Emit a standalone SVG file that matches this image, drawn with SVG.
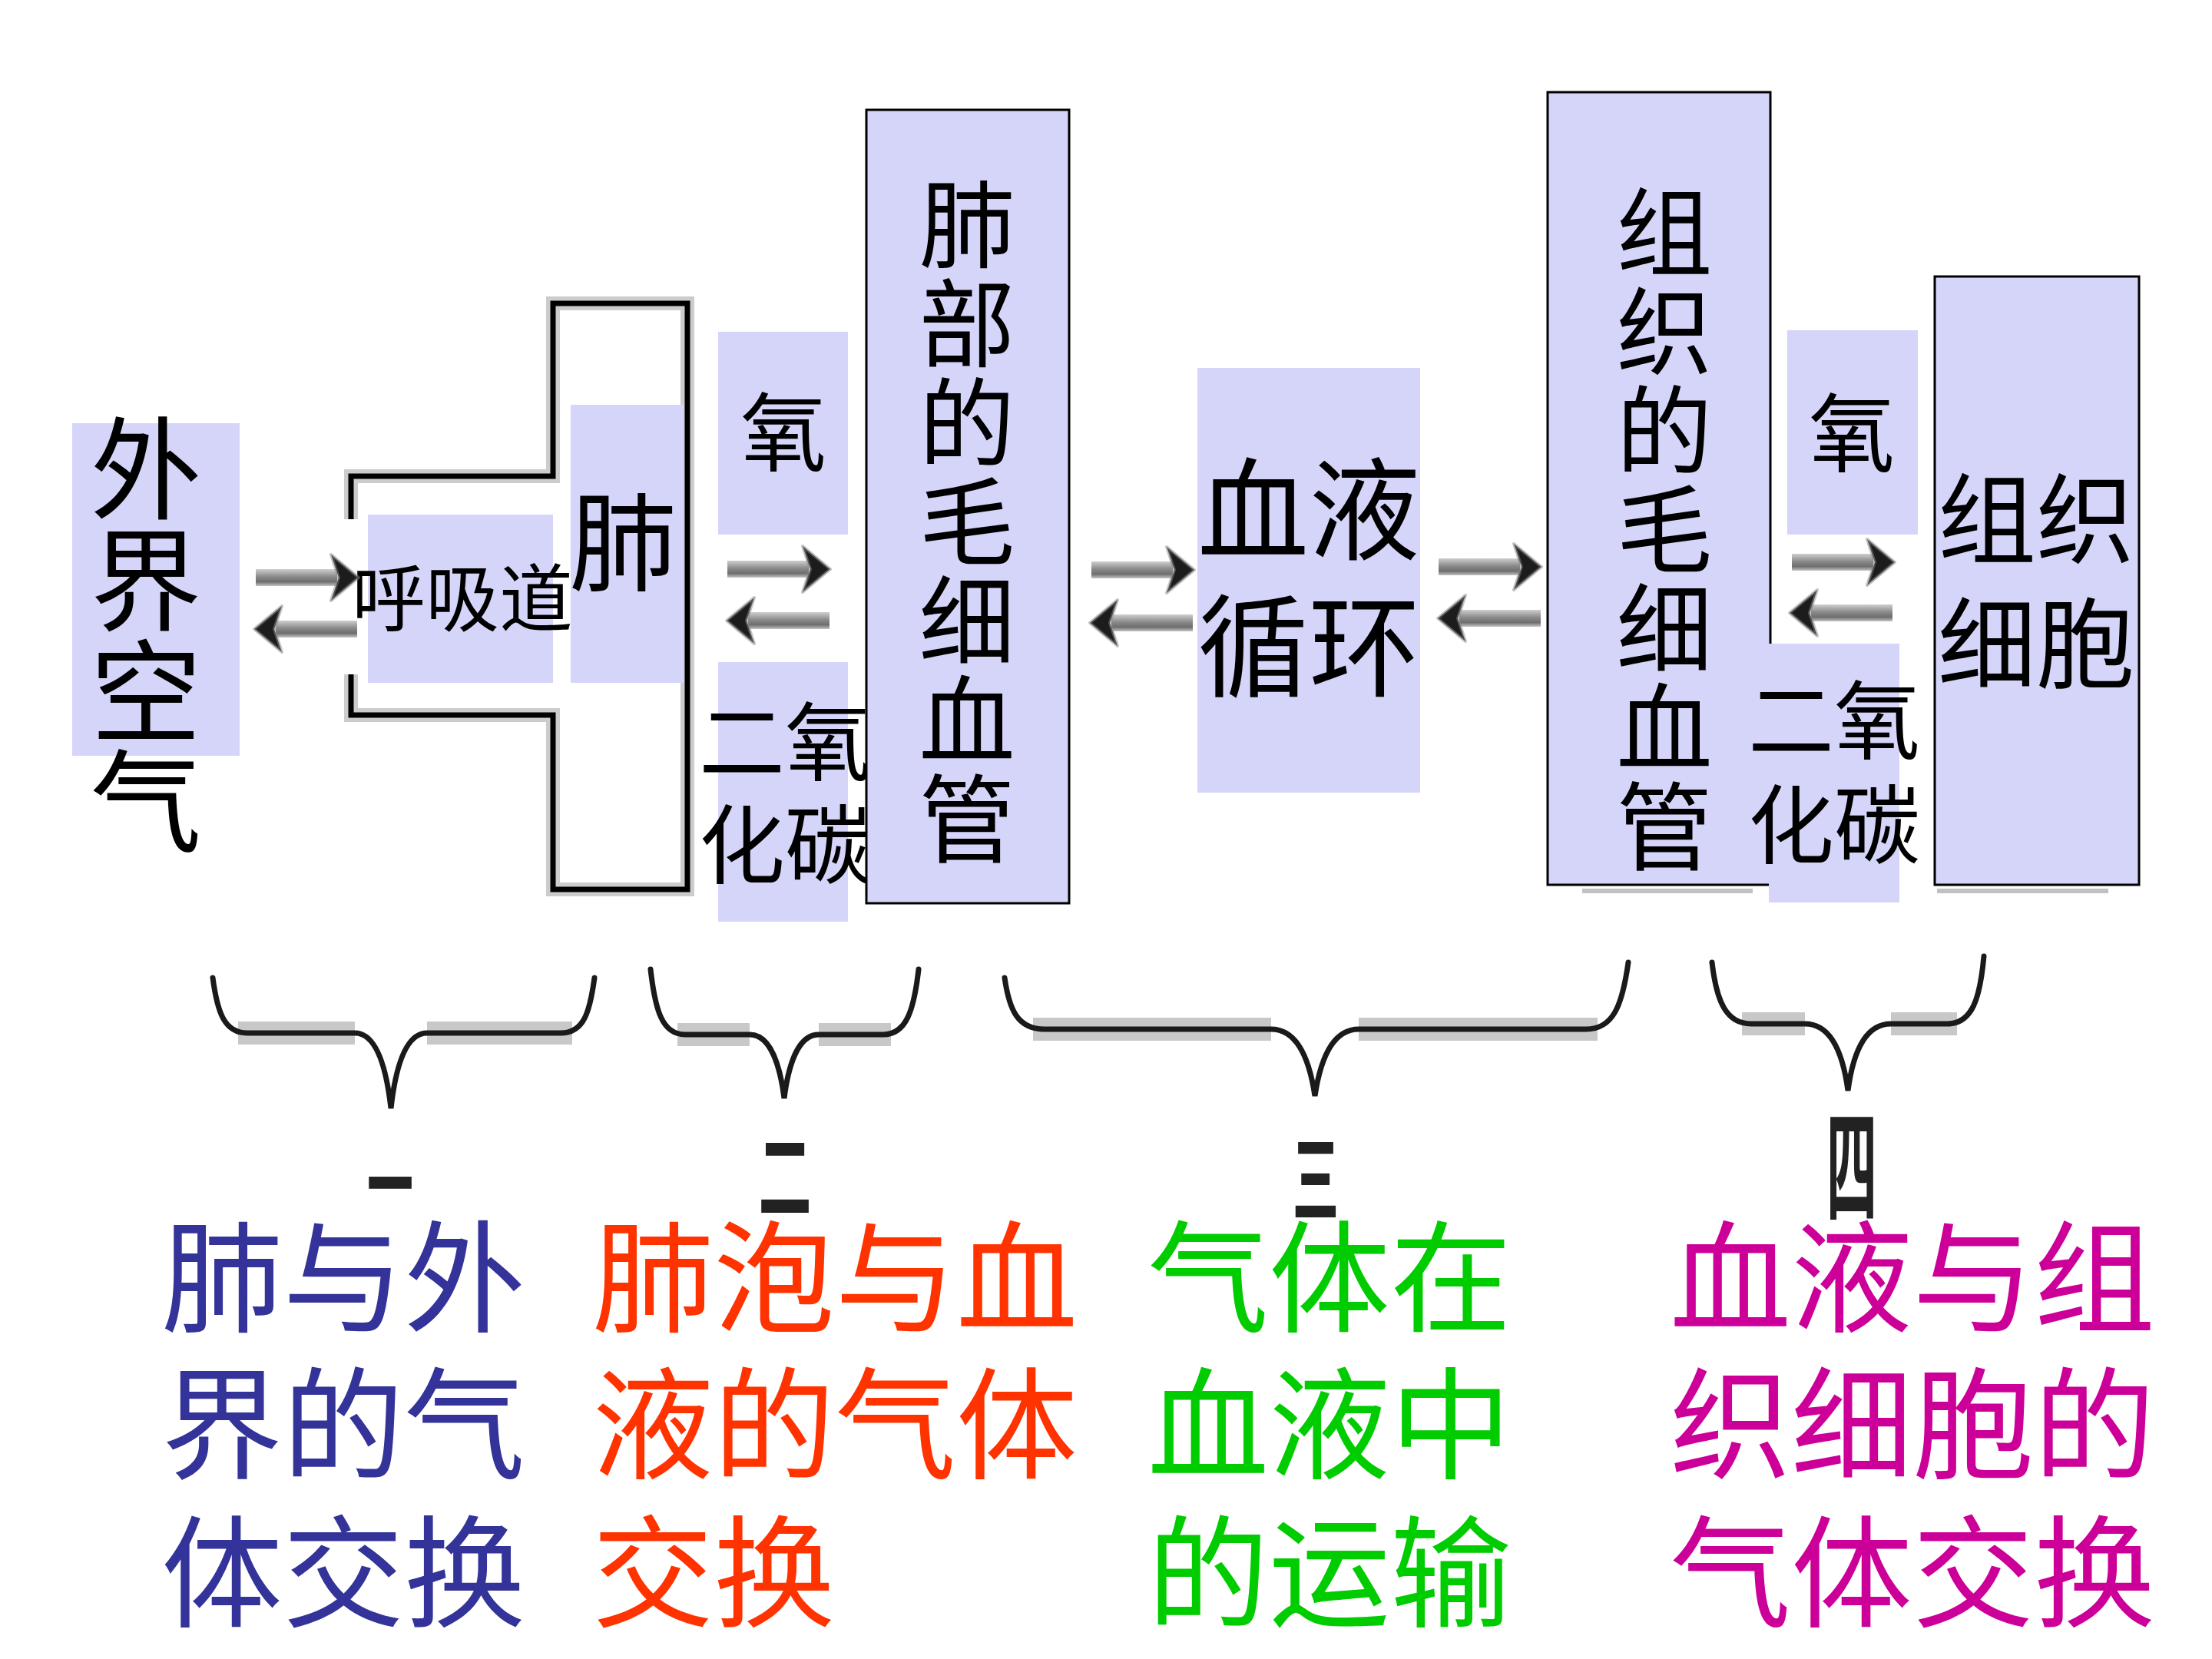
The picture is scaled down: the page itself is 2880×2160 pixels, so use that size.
<svg xmlns="http://www.w3.org/2000/svg" width="2880" height="2160" viewBox="0 0 2880 2160">
<defs>
<linearGradient id="shaft" x1="0" y1="0" x2="0" y2="1">
<stop offset="0" stop-color="#cfcfcf"/>
<stop offset="0.45" stop-color="#8a8a8a"/>
<stop offset="0.75" stop-color="#6e6e6e"/>
<stop offset="1" stop-color="#c4c4c4"/>
</linearGradient>
<g id="arr">
<rect x="0" y="-11" width="106" height="22" fill="url(#shaft)"/>
<polygon points="98,-30 134,0 98,30 108,0" fill="#1c1c1c" stroke="#888" stroke-width="4" stroke-opacity="0.5" stroke-linejoin="round"/>
</g>
</defs>
<style>
.box{fill:#D5D5FA;}
.bord{fill:#D5D5FA;stroke:#000;stroke-width:3;}
.t{font-family:"Noto Sans CJK SC","Noto Sans CJK TC",sans-serif;fill:#000;}
.c{text-anchor:middle;}
.lung{fill:none;stroke-linejoin:miter;}
.brace{fill:none;stroke:#1a1a1a;stroke-width:7;stroke-linecap:round;}
.braceb{fill:none;stroke:#9a9a9a;stroke-width:30;opacity:0.55;}
.num{font-family:"Noto Sans CJK SC",sans-serif;font-weight:bold;fill:#222;text-anchor:middle;}
.big{font-family:"Noto Sans CJK SC","Noto Sans CJK TC",sans-serif;font-size:158px;}
</style>
<rect width="2880" height="2160" fill="#fff"/>

<g id="outside-air">
<rect class="box" x="94" y="551" width="218" height="433"/>
<text class="t c" font-size="145"><tspan x="190" y="665">外</tspan><tspan x="190" y="810">界</tspan><tspan x="190" y="955">空</tspan><tspan x="190" y="1098">气</tspan></text>
</g>

<g id="lung-outline">
<path class="lung" stroke="#999" stroke-width="18" opacity="0.5" d="M457,676 L457,620 L720,620 L720,395 L895,395 L895,1158 L720,1158 L720,931 L457,931 L457,878"/>
<path class="lung" stroke="#000" stroke-width="7" d="M457,676 L457,620 L720,620 L720,395 L895,395 L895,1158 L720,1158 L720,931 L457,931 L457,878"/>
</g>

<g id="airway">
<rect class="box" x="479" y="670" width="241" height="219"/>
<text class="t" font-size="96" x="458" y="814">呼吸道</text>
</g>

<g id="lung">
<rect class="box" x="743" y="527" width="147" height="362"/>
<text class="t c" font-size="140" x="811" y="758">肺</text>
</g>

<g id="oxygen-left">
<rect class="box" x="935" y="432" width="169" height="264"/>
<text class="t c" font-size="112" x="1020" y="605">氧</text>
</g>

<g id="co2-left">
<rect class="box" x="935" y="862" width="169" height="338"/>
<text class="t c" font-size="112"><tspan x="1022" y="1008">二氧</tspan><tspan x="1022" y="1142">化碳</tspan></text>
</g>

<g id="lung-capillary">
<rect class="bord" x="1128" y="143" width="264" height="1033"/>
<text class="t c" font-size="125"><tspan x="1259" y="339">肺</tspan><tspan x="1259" y="468">部</tspan><tspan x="1259" y="597">的</tspan><tspan x="1259" y="726">毛</tspan><tspan x="1259" y="855">细</tspan><tspan x="1259" y="984">血</tspan><tspan x="1259" y="1113">管</tspan></text>
</g>

<g id="blood-circulation">
<rect class="box" x="1559" y="479" width="290" height="553"/>
<text class="t c" font-size="145"><tspan x="1704" y="718">血液</tspan><tspan x="1704" y="896">循环</tspan></text>
</g>

<g id="tissue-capillary">
<line x1="2060" y1="1160" x2="2282" y2="1160" stroke="#999" stroke-width="6" opacity="0.6"/>
<rect class="bord" x="2015" y="120" width="290" height="1032"/>
<text class="t c" font-size="125"><tspan x="2167" y="349">组</tspan><tspan x="2167" y="478">织</tspan><tspan x="2167" y="607">的</tspan><tspan x="2167" y="736">毛</tspan><tspan x="2167" y="865">细</tspan><tspan x="2167" y="994">血</tspan><tspan x="2167" y="1123">管</tspan></text>
</g>

<g id="oxygen-right">
<rect class="box" x="2327" y="430" width="170" height="266"/>
<text class="t c" font-size="112" x="2411" y="606">氧</text>
</g>

<g id="co2-right">
<rect class="box" x="2303" y="838" width="170" height="337"/>
<text class="t c" font-size="112"><tspan x="2388" y="980">二氧</tspan><tspan x="2388" y="1116">化碳</tspan></text>
</g>

<g id="tissue-cells">
<line x1="2522" y1="1160" x2="2745" y2="1160" stroke="#999" stroke-width="6" opacity="0.6"/>
<rect class="bord" x="2519" y="360" width="266" height="792"/>
<text class="t c" font-size="128"><tspan x="2651" y="724">组织</tspan><tspan x="2651" y="886">细胞</tspan></text>
</g>

<g id="connectors">
<use href="#arr" transform="translate(333,752)"/>
<use href="#arr" transform="translate(465,819) scale(-1,1)"/>
<use href="#arr" transform="translate(947,741)"/>
<use href="#arr" transform="translate(1080,808) scale(-1,1)"/>
<use href="#arr" transform="translate(1421,742)"/>
<use href="#arr" transform="translate(1553,811) scale(-1,1)"/>
<use href="#arr" transform="translate(1873,738)"/>
<use href="#arr" transform="translate(2006,805) scale(-1,1)"/>
<use href="#arr" transform="translate(2333,732)"/>
<use href="#arr" transform="translate(2464,798) scale(-1,1)"/>

<path class="braceb" d="M310,1345 L462,1345 M556,1345 L745,1345 M882,1347 L976,1347 M1066,1347 L1160,1347 M1345,1340 L1655,1340 M1769,1340 L2080,1340 M2268,1333 L2350,1333 M2462,1333 L2548,1333"/>
<path class="brace" d="M277,1273 C283,1318 292,1345 322,1345 L462,1345 C490,1345 503,1390 509,1443 C515,1390 528,1345 556,1345 L730,1345 C760,1345 768,1318 774,1273"/>
<path class="brace" d="M847,1262 C853,1315 862,1347 892,1347 L976,1347 C1004,1347 1016,1390 1021,1430 C1026,1390 1038,1347 1066,1347 L1150,1347 C1180,1347 1190,1315 1196,1262"/>
<path class="brace" d="M1308,1273 C1314,1315 1325,1340 1360,1340 L1655,1340 C1690,1340 1705,1380 1712,1427 C1719,1380 1734,1340 1769,1340 L2065,1340 C2100,1340 2112,1310 2120,1253"/>
<path class="brace" d="M2229,1253 C2235,1305 2248,1333 2280,1333 L2350,1333 C2385,1333 2400,1375 2406,1420 C2412,1375 2427,1333 2462,1333 L2535,1333 C2568,1333 2578,1300 2583,1245"/>
</g>

<g id="stage-labels">
<text class="num" font-size="60" transform="translate(508,1541) scale(1,2)" x="0" y="23">一</text>
<text class="num" font-size="60" transform="translate(1022,1530) scale(1.15,2.1)" x="0" y="23">二</text>
<text class="num" font-size="60" transform="translate(1713,1533) scale(1,2.07)" x="0" y="23">三</text>
<text class="num" font-size="60" transform="translate(2411,1517) scale(1.1,2.7)" x="0" y="23">四</text>
</g>

<g id="captions">
<text class="big" fill="#333399"><tspan x="210" y="1722">肺与外</tspan><tspan x="210" y="1913">界的气</tspan><tspan x="210" y="2106">体交换</tspan></text>
<text class="big" fill="#FF3300"><tspan x="771" y="1722">肺泡与血</tspan><tspan x="771" y="1913">液的气体</tspan><tspan x="771" y="2106">交换</tspan></text>
<text class="big" fill="#00CC00"><tspan x="1494" y="1722">气体在</tspan><tspan x="1494" y="1913">血液中</tspan><tspan x="1494" y="2106">的运输</tspan></text>
<text class="big" fill="#CC0099"><tspan x="2174" y="1722">血液与组</tspan><tspan x="2174" y="1913">织细胞的</tspan><tspan x="2174" y="2106">气体交换</tspan></text>
</g>
</svg>
